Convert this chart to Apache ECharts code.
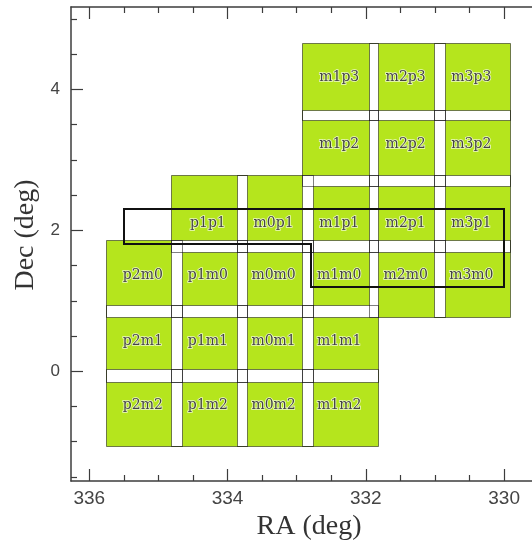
<!DOCTYPE html>
<html>
<head>
<meta charset="utf-8">
<script src="https://cdn.jsdelivr.net/npm/echarts@6/dist/echarts.min.js"></script>
<style>
  html, body { margin: 0; padding: 0; background: #fff; }
  #chart { width: 532px; height: 541px; }
</style>
</head>
<body>
<div id="chart"></div>
<script>
// Field grid: column (RA) and row (Dec) centres, in degrees
const colNames = ['p2', 'p1', 'm0', 'm1', 'm2', 'm3'];
const colRA = [335.21, 334.27, 333.32, 332.37, 331.41, 330.46];
const rowNames = ['m2', 'm1', 'm0', 'p1', 'p2', 'p3'];
const rowDec = [-0.51, 0.39, 1.32, 2.24, 3.17, 4.11];
const rowLabelDec = [-0.48, 0.42, 1.36, 2.10, 3.22, 4.17];
const fieldWidth = 1.10;   // deg in RA
const fieldHeight = 1.09;  // deg in Dec

// Observed fields (column name + row name)
const fields = [
  'm1p3', 'm2p3', 'm3p3',
  'm1p2', 'm2p2', 'm3p2',
  'p1p1', 'm0p1', 'm1p1', 'm2p1', 'm3p1',
  'p2m0', 'p1m0', 'm0m0', 'm1m0', 'm2m0', 'm3m0',
  'p2m1', 'p1m1', 'm0m1', 'm1m1',
  'p2m2', 'p1m2', 'm0m2', 'm1m2'
];

// Spectroscopic footprint outline (RA, Dec)
const footprintRA = [335.5, 330.0, 330.0, 332.8, 332.8, 335.5];
const footprintDec = [2.3, 2.3, 1.2, 1.2, 1.8, 1.8];

// Axis ticks
const raMajor = [336, 334, 332, 330];
const raMinor = [335.5, 335, 334.5, 333.5, 333, 332.5, 331.5, 331, 330.5];
const decMajor = [0, 2, 4];
const decMinor = [-1.5, -1, -0.5, 0.5, 1, 1.5, 2.5, 3, 3.5, 4.5, 5];

const raRange = [329.38, 336.264];
const decRange = [-1.558, 5.17];

// Field rectangles [raLeft, raRight, decBottom, decTop, label]
const fieldRects = fields.map(function (name) {
  const c = colNames.indexOf(name.slice(0, 2));
  const r = rowNames.indexOf(name.slice(2, 4));
  return [colRA[c] + fieldWidth / 2, colRA[c] - fieldWidth / 2,
          rowDec[r] - fieldHeight / 2, rowDec[r] + fieldHeight / 2, name];
});

// Overlap regions between every pair of fields
const overlapRects = [];
for (let i = 0; i < fieldRects.length; i++) {
  for (let j = i + 1; j < fieldRects.length; j++) {
    const a = fieldRects[i], b = fieldRects[j];
    const raHi = Math.min(a[0], b[0]), raLo = Math.max(a[1], b[1]);
    const decLo = Math.max(a[2], b[2]), decHi = Math.min(a[3], b[3]);
    if (raHi > raLo && decHi > decLo) overlapRects.push([raHi, raLo, decLo, decHi]);
  }
}

const labelData = fields.map(function (name) {
  const c = colNames.indexOf(name.slice(0, 2));
  const r = rowNames.indexOf(name.slice(2, 4));
  return [colRA[c], rowLabelDec[r], name];
});

const footprintData = footprintRA.map(function (ra, i) { return [ra, footprintDec[i]]; });

function boxShape(api) {
  const p1 = api.coord([api.value(0), api.value(2)]);
  const p2 = api.coord([api.value(1), api.value(3)]);
  const x1 = Math.round(Math.min(p1[0], p2[0])) + 0.5;
  const x2 = Math.round(Math.max(p1[0], p2[0])) + 0.5;
  const y1 = Math.round(Math.min(p1[1], p2[1])) + 0.5;
  const y2 = Math.round(Math.max(p1[1], p2[1])) + 0.5;
  return { x: x1, y: y1, width: x2 - x1, height: y2 - y1 };
}

const axisColor = '#3c3c3c';
function raAxis(position, ticks, len, showLine, withLabels) {
  return {
    type: 'value', position: position, min: raRange[0], max: raRange[1], inverse: true,
    axisLine: { show: showLine, onZero: false, lineStyle: { color: axisColor, width: 1.5 } },
    axisTick: { show: true, inside: true, length: len, customValues: ticks,
                lineStyle: { color: axisColor, width: 1.2 } },
    axisLabel: withLabels ? { show: true, customValues: ticks, margin: 8, fontSize: 19,
                fontFamily: 'Liberation Sans', color: '#444' } : { show: false },
    splitLine: { show: false }
  };
}
function decAxis(ticks, len, withLabels) {
  return {
    type: 'value', position: 'left', min: decRange[0], max: decRange[1],
    axisLine: { show: !!withLabels, onZero: false, lineStyle: { color: axisColor, width: 1.5 } },
    axisTick: { show: true, inside: true, length: len, customValues: ticks,
                lineStyle: { color: axisColor, width: 1.2 } },
    axisLabel: withLabels ? { show: true, customValues: ticks, margin: 11, fontSize: 17,
                fontFamily: 'Liberation Sans', color: '#444' } : { show: false },
    splitLine: { show: false }
  };
}

const xMain = raAxis('bottom', raMajor, 12, true, true);
xMain.name = 'RA (deg)';
xMain.nameLocation = 'middle';
xMain.nameGap = 25;
xMain.nameTextStyle = { fontFamily: 'Liberation Serif', fontSize: 28, color: '#333' };

const yMain = decAxis(decMajor, 12, true);
yMain.name = 'Dec (deg)';
yMain.nameLocation = 'middle';
yMain.nameRotate = 90;
yMain.nameGap = 30;
yMain.nameTextStyle = { fontFamily: 'Liberation Serif', fontSize: 28, color: '#333',
                        padding: [0, 0, 0, 18] };

const chart = echarts.init(document.getElementById('chart'), null, { renderer: 'canvas' });
chart.setOption({
  animation: false,
  backgroundColor: '#fff',
  grid: { left: 71, top: 7, width: 476, height: 474, containLabel: false,
          outerBoundsMode: 'none' },
  xAxis: [
    xMain,
    raAxis('bottom', raMinor, 6, false, false),
    raAxis('top', raMajor, 12, true, false),
    raAxis('top', raMinor, 6, false, false)
  ],
  yAxis: [
    yMain,
    decAxis(decMinor, 6, false)
  ],
  series: [
    {
      // green field fills
      type: 'custom', xAxisIndex: 0, yAxisIndex: 0, silent: true,
      data: fieldRects,
      renderItem: function (params, api) {
        return { type: 'rect', shape: boxShape(api), style: { fill: '#b5e51d' } };
      }
    },
    {
      // overlapping strips left white
      type: 'custom', xAxisIndex: 0, yAxisIndex: 0, silent: true,
      data: overlapRects,
      renderItem: function (params, api) {
        return { type: 'rect', shape: boxShape(api), style: { fill: '#ffffff' } };
      }
    },
    {
      // field outlines (shared edges darken where they coincide)
      type: 'custom', xAxisIndex: 0, yAxisIndex: 0, silent: true,
      data: fieldRects,
      renderItem: function (params, api) {
        return { type: 'rect', shape: boxShape(api),
                 style: { fill: null, stroke: 'rgba(0,0,0,0.5)', lineWidth: 1 } };
      }
    },
    {
      // field names
      type: 'custom', xAxisIndex: 0, yAxisIndex: 0, silent: true,
      data: labelData,
      renderItem: function (params, api) {
        const p = api.coord([api.value(0), api.value(1)]);
        return {
          type: 'text', x: p[0] - 1, y: p[1],
          style: {
            text: labelData[params.dataIndex][2],
            fontFamily: 'DejaVu Serif', fontSize: 14,
            fill: '#444', stroke: 'rgba(255,255,255,0.75)', lineWidth: 1.6,
            align: 'center', verticalAlign: 'middle'
          }
        };
      }
    },
    {
      // footprint outline
      type: 'custom', xAxisIndex: 0, yAxisIndex: 0, silent: true,
      data: [0],
      renderItem: function (params, api) {
        const pts = footprintData.map(function (d) {
          const p = api.coord(d);
          return [Math.round(p[0]), Math.round(p[1])];
        });
        return {
          type: 'polygon', shape: { points: pts },
          style: { fill: null, stroke: '#111', lineWidth: 2 }
        };
      }
    }
  ]
});
</script>
</body>
</html>
